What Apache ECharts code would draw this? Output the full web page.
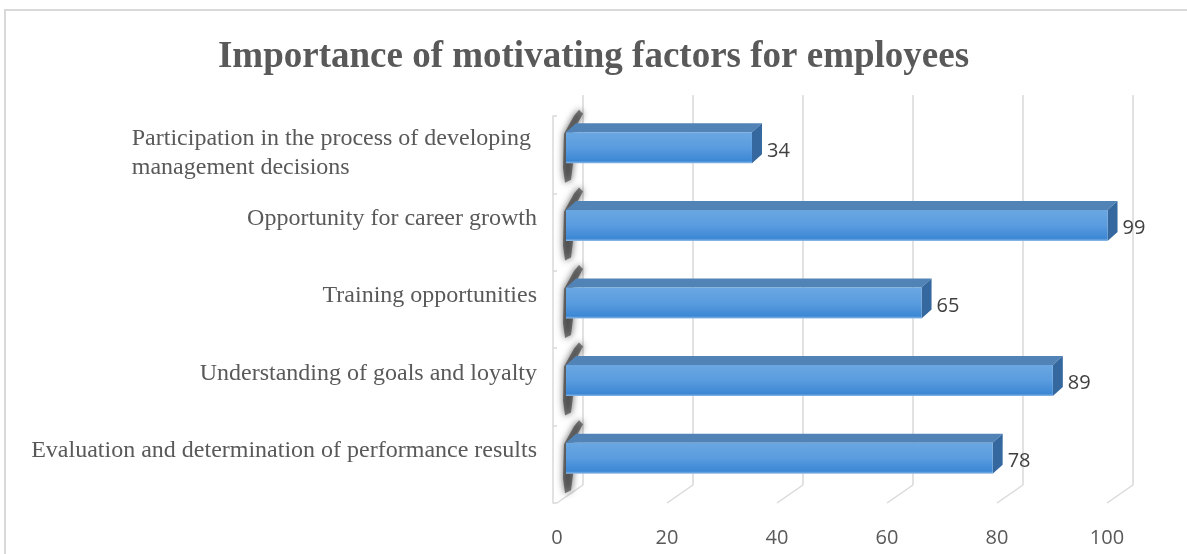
<!DOCTYPE html>
<html>
<head>
<meta charset="utf-8">
<script src="https://cdn.jsdelivr.net/npm/echarts@6/dist/echarts.min.js"></script>
<style>
  html, body { margin: 0; padding: 0; background: #fff; }
  #chart { width: 1187px; height: 554px; }
</style>
</head>
<body>
<div id="chart"></div>
<script>
const categories = [
  "Participation in the process of developing \nmanagement decisions",
  "Opportunity for career growth",
  "Training opportunities",
  "Understanding of goals and loyalty",
  "Evaluation and determination of performance results"
];
const values = [34, 99, 65, 89, 78];
const xTicks = [0, 20, 40, 60, 80, 100];

const serif = '"Liberation Serif", "Times New Roman", serif';
const sans = '"Open Sans", "Liberation Sans", sans-serif';

// width of longest line, so a wrapped label stays left aligned inside its block
const measure = document.createElement("canvas").getContext("2d");
measure.font = "24px " + serif;
const blockWidth = (txt) =>
  Math.max(...txt.split("\n").map((s) => measure.measureText(s).width));

// 3d offsets
const dx = 10;
const dy = 9;

const myChart = echarts.init(document.getElementById("chart"));
myChart.setOption({
  backgroundColor: "#fff",
  animation: false,
  title: {
    text: "Importance of motivating factors for employees",
    left: "center",
    top: 34,
    textStyle: {
      fontFamily: serif,
      fontWeight: "bold",
      fontSize: 37,
      color: "#595959",
    },
  },
  graphic: [
    {
      type: "rect",
      z: -10,
      shape: { x: 5, y: 10, width: 1250, height: 620 },
      style: { fill: "none", stroke: "#d9d9d9", lineWidth: 2 },
    },
  ],
  grid: [
    // back wall
    { left: 583, right: 54, top: 95, bottom: 69 },
    // category axis line
    { left: 553, right: 54, top: 116, bottom: 51 },
    // floor front (tick labels)
    { left: 557, right: 80, top: 116, bottom: 51 },
    // bars front face
    { left: 566, right: 74, top: 109, bottom: 57 },
  ],
  xAxis: [
    {
      gridIndex: 0,
      type: "value",
      min: 0,
      max: 100,
      interval: 20,
      axisLine: { show: false },
      axisTick: { show: false },
      axisLabel: { show: false },
      splitLine: { show: true, lineStyle: { color: "#d9d9d9", width: 1.5 } },
    },
    { gridIndex: 1, type: "value", min: 0, max: 100, show: false },
    {
      gridIndex: 2,
      type: "value",
      min: 0,
      max: 100,
      interval: 20,
      axisLine: { show: false },
      axisTick: { show: false },
      splitLine: { show: false },
      axisLabel: {
        margin: 25,
        fontSize: 20,
        fontFamily: sans,
        color: "#595959",
      },
    },
    { gridIndex: 3, type: "value", min: 0, max: 100, show: false },
  ],
  yAxis: [
    { gridIndex: 0, type: "value", show: false },
    {
      gridIndex: 1,
      type: "category",
      inverse: true,
      data: categories,
      axisLine: { show: true, lineStyle: { color: "#d9d9d9", width: 1.5 } },
      axisTick: { show: true, inside: true, length: 4, lineStyle: { color: "#d9d9d9", width: 1.5 } },
      axisLabel: { show: false },
      splitLine: { show: false },
    },
    { gridIndex: 2, type: "value", min: 0, max: 1, show: false },
    {
      gridIndex: 3,
      type: "category",
      inverse: true,
      data: categories,
      axisLine: { show: false },
      axisTick: { show: false },
      splitLine: { show: false },
      axisLabel: {
        margin: 29,
        padding: [0, 0, 14, 0],
        fontSize: 24,
        fontFamily: serif,
        color: "#595959",
        lineHeight: 29,
        formatter: (val) => {
          if (val.indexOf("\n") < 0) return val;
          // a blank first line pushes the wrapped label down a bit
          return "{gap| }\n" + val
            .split("\n")
            .map((s) => "{l|" + s + "}")
            .join("\n");
        },
        rich: {
          gap: { fontSize: 10, lineHeight: 24 },
          l: {
            width: blockWidth(categories[0]),
            align: "left",
            fontSize: 24,
            fontFamily: serif,
            color: "#595959",
            lineHeight: 29,
          },
        },
      },
    },
  ],
  series: [
    {
      // floor lines from the back wall to the tick labels
      type: "custom",
      xAxisIndex: 2,
      yAxisIndex: 2,
      silent: true,
      data: xTicks.map((t) => [t, 0]),
      renderItem: (params, api) => {
        const p = api.coord([api.value(0), 0]);
        return {
          type: "line",
          shape: { x1: p[0] + 26, y1: p[1] - 18, x2: p[0], y2: p[1] },
          style: { stroke: "#d9d9d9", lineWidth: 1.5 },
        };
      },
    },
    {
      type: "custom",
      xAxisIndex: 3,
      yAxisIndex: 3,
      data: values.map((v, i) => [v, i]),
      renderItem: (params, api) => {
        const end = api.coord([api.value(0), api.value(1)]);
        const start = api.coord([0, api.value(1)]);
        const h = api.size([0, 1])[1] * 0.4;
        const x0 = start[0];
        const x1 = end[0];
        const yc = end[1];
        const yt = yc - h / 2;
        const yb = yc + h / 2;
        const sh = [
          [-2, -14], [8, -32], [13, -38], [17, -34], [7, -16],
          [7, 16], [5, 32], [-1, 35], [-3, 20],
        ].map((q) => [x0 + q[0], yc + q[1]]);
        return {
          type: "group",
          children: [
            {
              // blurry dark shade at the left end
              type: "polygon",
              shape: { points: sh },
              style: {
                fill: "rgba(50,50,50,0.6)",
                shadowBlur: 7,
                shadowColor: "rgba(0,0,0,1)",
              },
            },
            {
              type: "polygon",
              shape: {
                points: [[x0, yt], [x0 + dx, yt - dy], [x1 + dx, yt - dy], [x1, yt]],
              },
              style: { fill: "#5283b6" },
            },
            {
              type: "polygon",
              shape: {
                points: [[x1, yt], [x1 + dx, yt - dy], [x1 + dx, yb - dy], [x1, yb]],
              },
              style: { fill: "#34689f" },
            },
            {
              type: "rect",
              shape: { x: x0, y: yt, width: x1 - x0, height: h },
              style: {
                fill: new echarts.graphic.LinearGradient(0, 0, 0, 1, [
                  { offset: 0, color: "#6aa7e2" },
                  { offset: 0.5, color: "#5a9cdf" },
                  { offset: 0.92, color: "#3c87d4" },
                  { offset: 1, color: "#8fbbe8" },
                ]),
              },
            },
            {
              type: "text",
              style: {
                text: String(api.value(0)),
                x: x1 + dx + 5,
                y: yc + 3,
                verticalAlign: "middle",
                fontSize: 20,
                fontFamily: sans,
                fill: "#404040",
              },
            },
          ],
        };
      },
    },
  ],
});
window.addEventListener("resize", function () {
  myChart.resize();
});
</script>
</body>
</html>
